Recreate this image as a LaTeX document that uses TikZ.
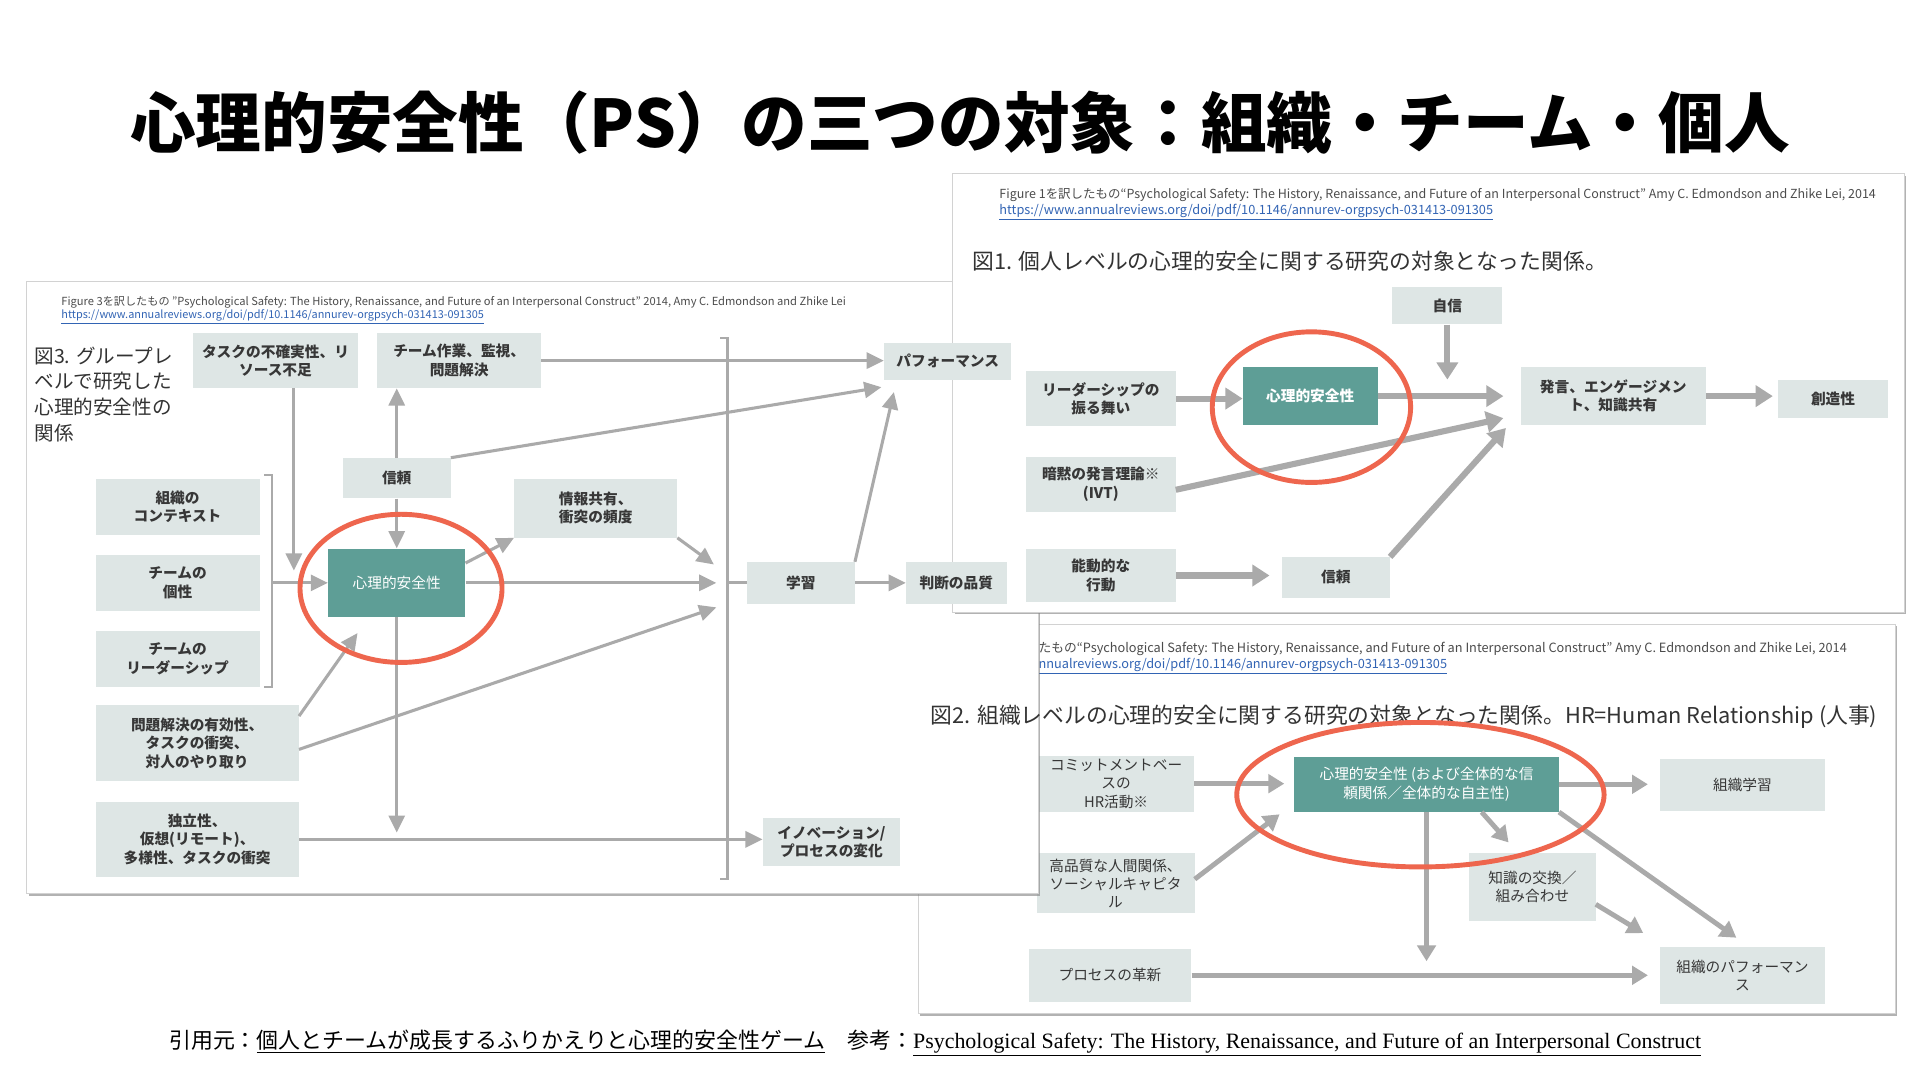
\documentclass[tikz,border=0pt]{standalone}
\usepackage{fontspec}
\setmainfont{Noto Sans CJK JP}
\newfontfamily\serifen{Liberation Serif}
\usetikzlibrary{arrows.meta, positioning, shadows}
\definecolor{boxgray}{RGB}{222,230,229}
\definecolor{psteal}{RGB}{94,158,150}
\definecolor{arrgray}{RGB}{170,170,170}
\definecolor{markred}{RGB}{238,102,78}
\definecolor{linkblue}{RGB}{50,100,180}
\definecolor{txtgray}{RGB}{55,55,55}
\tikzset{
    panel/.style={rectangle, draw=gray!35, line width=0.8pt, fill=white, drop shadow={shadow xshift=1.5pt, shadow yshift=-1.5pt, fill=black!50, opacity=0.6}},
    box/.style={rectangle, fill=boxgray, text=txtgray, align=center, inner sep=0pt, font=\fontsize{12}{15}\selectfont\bfseries},
    lightbox/.style={box, font=\fontsize{12}{15}\selectfont},
    psbox/.style={box, fill=psteal, text=white},
    hdr/.style={anchor=west, inner sep=0pt, text=black!70, font=\fontsize{10.4}{11}\selectfont},
    lnk/.style={anchor=west, inner sep=0pt, text=linkblue, font=\fontsize{10.4}{11}\selectfont},
    figtitle/.style={anchor=west, inner sep=0pt, text=black!80, font=\fontsize{17.8}{20}\selectfont},
    arrL/.style={draw=arrgray, line width=2.5pt, -{Triangle[length=14pt,width=13pt]}},
    arrT/.style={draw=arrgray, line width=5pt, -{Triangle[length=14pt,width=17pt]}},
    arrB/.style={draw=arrgray, line width=4pt, -{Triangle[length=13pt,width=15pt]}},
    brk/.style={draw=arrgray, line width=2pt},
    psring/.style={draw=markred, line width=4pt}
}
\begin{document}
\begin{tikzpicture}[x=1pt, y=-1pt]
    \useasboundingbox[fill=white] (0,0) rectangle (1568,882);

    % Title
    \node (title) [inner sep=0pt, font=\fontsize{53.6}{60}\selectfont\bfseries] at (784,100) {心理的安全性（PS）の三つの対象：組織・チーム・個人};

    % Bottom right panel (organisation)
    \node (orgpanel) [panel, minimum width=798pt, minimum height=318pt] at (1149,669) {};
    \node (orghdr) [hdr] at (848,530) {たもの“Psychological Safety: The History, Renaissance, and Future of an Interpersonal Construct” Amy C. Edmondson and Zhike Lei, 2014};
    \node (orglnk) [lnk] at (848,544) {\underline{nnualreviews.org/doi/pdf/10.1146/annurev-orgpsych-031413-091305}};
    \node (hrm) [lightbox, minimum width=127pt, minimum height=46pt] at (911.5,640) {コミットメントベー\\スの\\HR活動※};
    \node (psB) [psbox, font=\fontsize{12}{15}\selectfont, minimum width=216pt, minimum height=45pt] at (1165,640.5) {心理的安全性 (および全体的な信\\頼関係／全体的な自主性)};
    \node (orgl) [lightbox, minimum width=134pt, minimum height=42pt] at (1423,641) {組織学習};
    \node (social) [lightbox, minimum width=129pt, minimum height=49pt] at (911,721.5) {高品質な人間関係、\\ソーシャルキャピタ\\ル};
    \node (know) [lightbox, minimum width=103pt, minimum height=55pt] at (1251.5,724.5) {知識の交換／\\組み合わせ};
    \node (procinn) [lightbox, minimum width=133pt, minimum height=43pt] at (906.5,796.5) {プロセスの革新};
    \node (orgp) [lightbox, minimum width=134pt, minimum height=47pt] at (1423,796.5) {組織のパフォーマン\\ス};
    \coordinate (sin) at (1045,665);
    \coordinate (pbdown) at (1165,785);
    \coordinate (kin) at (1232,688);
    \coordinate (kout) at (1342,762);
    \draw [arrB, shorten >=8pt] (hrm.east) -- (hrm.east -| psB.west);
    \draw [arrB] ([yshift=3.5pt]social.east) -- (sin);
    \draw [arrB, shorten >=10pt] (psB.east) -- (psB.east -| orgl.west);
    \draw [arrB] (psB.south) -- (pbdown);
    \draw [arrB] ([xshift=45pt]psB.south) -- (kin);
    \draw [arrB] (psB.south east) -- ([xshift=-5pt,yshift=7pt]orgp.north);
    \draw [arrB] ([yshift=-14pt]know.east) -- (kout);
    \draw [arrB, shorten >=10pt] (procinn.east) -- (procinn.east -| orgp.west);

    % Left panel (team), frame only
    \node (teampanel) [panel, minimum width=826pt, minimum height=500pt] at (435,480) {};

    % Top right panel (individual)
    \node (indpanel) [panel, minimum width=777pt, minimum height=358pt] at (1166.5,321) {};
    \node (indhdr) [hdr, font=\fontsize{10.2}{11}\selectfont] at (816,159) {Figure 1を訳したもの“Psychological Safety: The History, Renaissance, and Future of an Interpersonal Construct” Amy C. Edmondson and Zhike Lei, 2014};
    \node (indlnk) [lnk] at (816,173) {\underline{https://www.annualreviews.org/doi/pdf/10.1146/annurev-orgpsych-031413-091305}};
    \node (indtitle) [figtitle] at (794,213) {図1. 個人レベルの心理的安全に関する研究の対象となった関係。};
    \node (conf) [box, minimum width=90pt, minimum height=31pt] at (1182,249.5) {自信};
    \node (leadb) [box, minimum width=122pt, minimum height=45pt] at (899,325.5) {リーダーシップの\\振る舞い};
    \node (psT) [psbox, minimum width=110pt, minimum height=47pt] at (1070,323.5) {心理的安全性};
    \node (voice) [box, minimum width=151pt, minimum height=47pt] at (1317.5,323.5) {発言、エンゲージメン\\ト、知識共有};
    \node (creat) [box, minimum width=90pt, minimum height=31pt] at (1497,325.5) {創造性};
    \node (ivt) [box, minimum width=122pt, minimum height=45pt] at (899,395.5) {暗黙の発言理論※\\(IVT)};
    \node (proact) [box, minimum width=122pt, minimum height=44pt] at (899,470) {能動的な\\行動};
    \node (trustT) [box, minimum width=88pt, minimum height=33pt] at (1091,471.5) {信頼};
    \coordinate (cdown) at (1182,310);
    \draw [arrT] (leadb.east) -- (leadb.east -| psT.west);
    \draw [arrT] (psT.east) -- ([xshift=-14pt]voice.west);
    \draw [arrT] (conf.south) -- (cdown);
    \draw [arrT] ([yshift=-4.5pt]ivt.east) -- ([xshift=-14pt,yshift=-18pt]voice.west);
    \draw [arrT, shorten >=10pt] (proact.east) -- (proact.east -| trustT.west);
    \draw [arrT] (trustT.north east) -- ([xshift=-12pt,yshift=-26pt]voice.west);
    \draw [arrT, shorten >=4pt] (voice.east) -- (voice.east -| creat.west);
    \draw [psring] (1071,332.5) ellipse [x radius=81, y radius=61.5];

    % Left panel contents
    \node (teamhdr) [hdr, font=\fontsize{9.1}{10}\selectfont] at (50,247) {Figure 3を訳したもの "Psychological Safety: The History, Renaissance, and Future of an Interpersonal Construct" 2014, Amy C. Edmondson and Zhike Lei};
    \node (teamlnk) [lnk, font=\fontsize{8.9}{10}\selectfont] at (50,259) {\underline{https://www.annualreviews.org/doi/pdf/10.1146/annurev-orgpsych-031413-091305}};
    \node (teamtitle) [anchor=north west, inner sep=0pt, align=left, text=black!80, font=\fontsize{16}{21}\selectfont] at (28,283) {図3. グループレ\\ベルで研究した\\心理的安全性の\\関係};
    \node (task) [box, minimum width=134pt, minimum height=45pt] at (225,294.5) {タスクの不確実性、リ\\ソース不足};
    \node (teamwork) [box, minimum width=134pt, minimum height=45pt] at (375,294.5) {チーム作業、監視、\\問題解決};
    \node (perf) [box, minimum width=104pt, minimum height=30pt] at (774,295) {パフォーマンス};
    \node (trust) [box, minimum width=88pt, minimum height=33pt] at (324,390.5) {信頼};
    \node (info) [box, minimum width=133pt, minimum height=48pt] at (486.5,415) {情報共有、\\衝突の頻度};
    \node (ctx) [box, minimum width=134pt, minimum height=46pt] at (145,414) {組織の\\コンテキスト};
    \node (pers) [box, minimum width=134pt, minimum height=46pt] at (145,476) {チームの\\個性};
    \node (lead) [box, minimum width=134pt, minimum height=46pt] at (145,538) {チームの\\リーダーシップ};
    \node (psL) [psbox, font=\fontsize{12}{15}\selectfont, minimum width=112pt, minimum height=56pt] at (324,476) {心理的安全性};
    \node (learn) [box, minimum width=88pt, minimum height=34pt] at (654,476) {学習};
    \node (judge) [box, minimum width=82pt, minimum height=34pt] at (781,476) {判断の品質};
    \node (prob) [box, minimum width=166pt, minimum height=62pt] at (161,607) {問題解決の有効性、\\タスクの衝突、\\対人のやり取り};
    \node (indep) [box, minimum width=166pt, minimum height=61pt] at (161,685.5) {独立性、\\仮想(リモート)、\\多様性、タスクの衝突};
    \node (innov) [box, minimum width=112pt, minimum height=39pt] at (679,687.5) {イノベーション/\\プロセスの変化};

    % Brackets
    \draw [brk] (216,388) -- (222,388) -- (222,561) -- (216,561);
    \draw [brk] (588,276) -- (594,276) -- (594,718) -- (588,718);
    \coordinate (sbrk) at (222,476);
    \coordinate (bbrk) at (594,476);
    \coordinate (tdown) at (240,466);
    \coordinate (pin) at (292,517);
    \coordinate (pdown) at (324,680);
    \coordinate (b1) at (583,461);
    \coordinate (b2) at (585,476);
    \coordinate (b3) at (585,496);

    % Left panel arrows
    \draw [arrL] ([xshift=15pt]task.south) -- (tdown);
    \draw [arrL] (sbrk) -- (psL.west);
    \draw [arrL] (trust.south) -- (psL.north);
    \draw [arrL] (trust.north) -- (trust.north |- teamwork.south);
    \draw [arrL] (trust.north east) -- ([xshift=-2pt,yshift=-6pt]perf.south west);
    \draw [arrL] (teamwork.east) -- (teamwork.east -| perf.west);
    \draw [arrL] ([yshift=-12pt]psL.north east) -- (info.south west);
    \draw [arrL] (info.south east) -- (b1);
    \draw [arrL] (psL.east) -- (b2);
    \draw [arrL] ([yshift=-9pt]prob.north east) -- (pin);
    \draw [arrL] ([yshift=-5pt]prob.east) -- (b3);
    \draw [arrL] (psL.south) -- (pdown);
    \draw [arrL] (indep.east) -- (indep.east -| innov.west);
    \draw [brk, line width=2.5pt] (bbrk) -- (learn.west);
    \draw [arrL] (learn.east) -- (judge.west);
    \draw [arrL] (learn.north east) -- ([xshift=-44pt,yshift=-10pt]perf.south);
    \draw [psring] (327.5,480.5) ellipse [x radius=82.5, y radius=60.5];

    % Bottom right title and ring (on top)
    \node (orgtitle) [figtitle] at (760,585) {図2. 組織レベルの心理的安全に関する研究の対象となった関係。HR=Human Relationship (人事)};
    \draw [psring] (1160,649) ellipse [x radius=150, y radius=59];

    % Footer
    \node (footer) [anchor=west, inner sep=0pt, font=\fontsize{17.9}{19}\selectfont] at (138,852) {引用元：\underline{個人とチームが成長するふりかえりと心理的安全性ゲーム}　参考：{\serifen\underline{Psychological Safety: The History, Renaissance, and Future of an Interpersonal Construct}}};
\end{tikzpicture}
\end{document}
